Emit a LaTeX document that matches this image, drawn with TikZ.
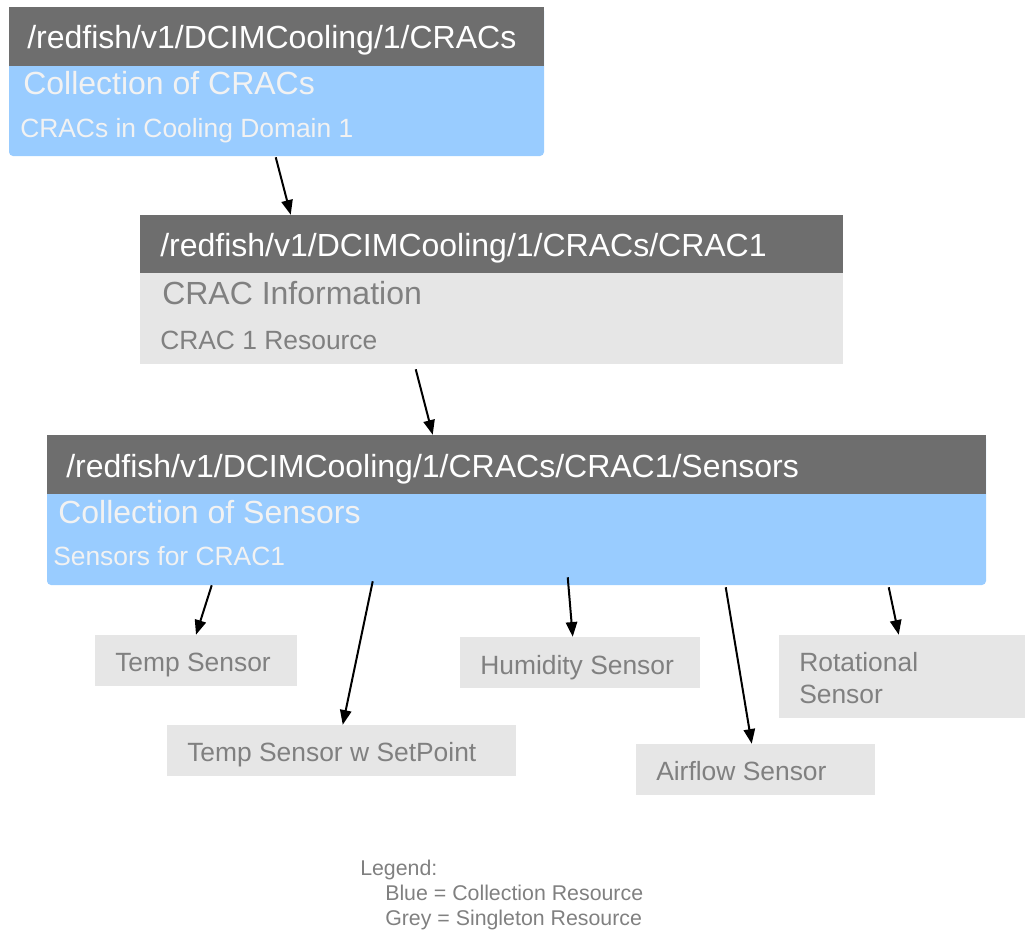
\documentclass[tikz,border=0pt]{standalone}
\usepackage{fontspec}
\setmainfont{Liberation Sans}
\usetikzlibrary{arrows.meta,calc,fit}
\definecolor{hdrgrey}{HTML}{6E6E6E}
\definecolor{collblue}{HTML}{99CCFF}
\definecolor{boxgrey}{HTML}{E6E6E6}
\definecolor{txtgrey}{HTML}{808080}
\definecolor{paletxt}{HTML}{F2F2F2}
\tikzset{
  hdr/.style={fill=hdrgrey, inner sep=0},
  collbody/.style={fill=collblue, rounded corners=3pt, inner sep=0},
  singbody/.style={fill=boxgrey, inner sep=0},
  bigtxt/.style={anchor=base west, inner sep=0, font=\fontsize{24}{28}\selectfont},
  smalltxt/.style={anchor=base west, inner sep=0, font=\fontsize{19.8}{24}\selectfont},
  legtxt/.style={anchor=base west, inner sep=0, text=txtgrey, font=\fontsize{16}{19}\selectfont},
  link/.style={-{Triangle[length=11pt,width=8.5pt]}, line width=1.5pt},
}
\begin{document}
\begin{tikzpicture}[x=0.75pt, y=-0.75pt]
  \useasboundingbox (0,0) rectangle (1028,933);
  % CRACs collection
  \node[collbody, fit={(9,7) (544,156)}] (cracs) {};
  \node[hdr, fit={(9,7) (544,66)}] (cracshdr) {};
  \node[bigtxt, text=white] (cracspath) at (27,48) {/redfish/v1/DCIMCooling/1/CRACs};
  \node[bigtxt, text=paletxt] (cracsname) at (23,94) {Collection of CRACs};
  \node[smalltxt, text=paletxt] (cracsdesc) at (20,137) {CRACs in Cooling Domain 1};
  % CRAC1 singleton
  \node[singbody, fit={(140,273) (843,364)}] (crac1) {};
  \node[hdr, fit={(140,215) (843,273)}] (crac1hdr) {};
  \node[bigtxt, text=white] (crac1path) at (160,256) {/redfish/v1/DCIMCooling/1/CRACs/CRAC1};
  \node[bigtxt, text=txtgrey] (crac1name) at (162,304) {CRAC Information};
  \node[smalltxt, text=txtgrey] (crac1desc) at (160,349) {CRAC 1 Resource};
  % Sensors collection
  \node[collbody, fit={(47,435) (986,585)}] (sensors) {};
  \node[hdr, fit={(47,435) (986,494)}] (sensorshdr) {};
  \node[bigtxt, text=white] (sensorspath) at (66,477) {/redfish/v1/DCIMCooling/1/CRACs/CRAC1/Sensors};
  \node[bigtxt, text=paletxt] (sensorsname) at (58,523) {Collection of Sensors};
  \node[smalltxt, text=paletxt] (sensorsdesc) at (53,565) {Sensors for CRAC1};
  % sensor singletons
  \node[singbody, fit={(95,635) (297,686)}] (temp) {};
  \node[smalltxt, text=txtgrey] (templbl) at (115,671) {Temp Sensor};
  \node[singbody, fit={(167,725) (516,776)}] (setpt) {};
  \node[smalltxt, text=txtgrey] (setptlbl) at (187,761) {Temp Sensor w SetPoint};
  \node[singbody, fit={(460,637) (700,688)}] (humid) {};
  \node[smalltxt, text=txtgrey] (humidlbl) at (480,674) {Humidity Sensor};
  \node[singbody, fit={(779,635) (1025,718)}] (rotat) {};
  \node[smalltxt, text=txtgrey, align=left] (rotatlbl) at (799,703) {Rotational\\Sensor};
  \node[singbody, fit={(636,744) (875,795)}] (airflow) {};
  \node[smalltxt, text=txtgrey] (airflowlbl) at (656,780) {Airflow Sensor};
  % links
  \draw[link] ($(cracs.south west)+(267,1)$) -- ($(crac1hdr.north west)+(151,0)$);
  \draw[link] ($(crac1.south west)+(276,5)$) -- ($(sensorshdr.north west)+(386,0)$);
  \draw[link] ($(sensors.south west)+(165,0)$) -- (temp.north);
  \draw[link] ($(sensors.south west)+(326,-4)$) -- ($(setpt.north west)+(176,0)$);
  \draw[link] ($(sensors.south west)+(521,-8)$) -- ($(humid.north west)+(113,0)$);
  \draw[link] ($(sensors.south west)+(679,2)$) -- ($(airflow.north west)+(116,0)$);
  \draw[link] ($(sensors.south west)+(842,2)$) -- ($(rotat.north west)+(120,0)$);
  % legend
  \node[legtxt] (legend) at (360,875) {Legend:};
  \node[legtxt] (legblue) at (385,900) {Blue = Collection Resource};
  \node[legtxt] (leggrey) at (385,925) {Grey = Singleton Resource};
\end{tikzpicture}
\end{document}
